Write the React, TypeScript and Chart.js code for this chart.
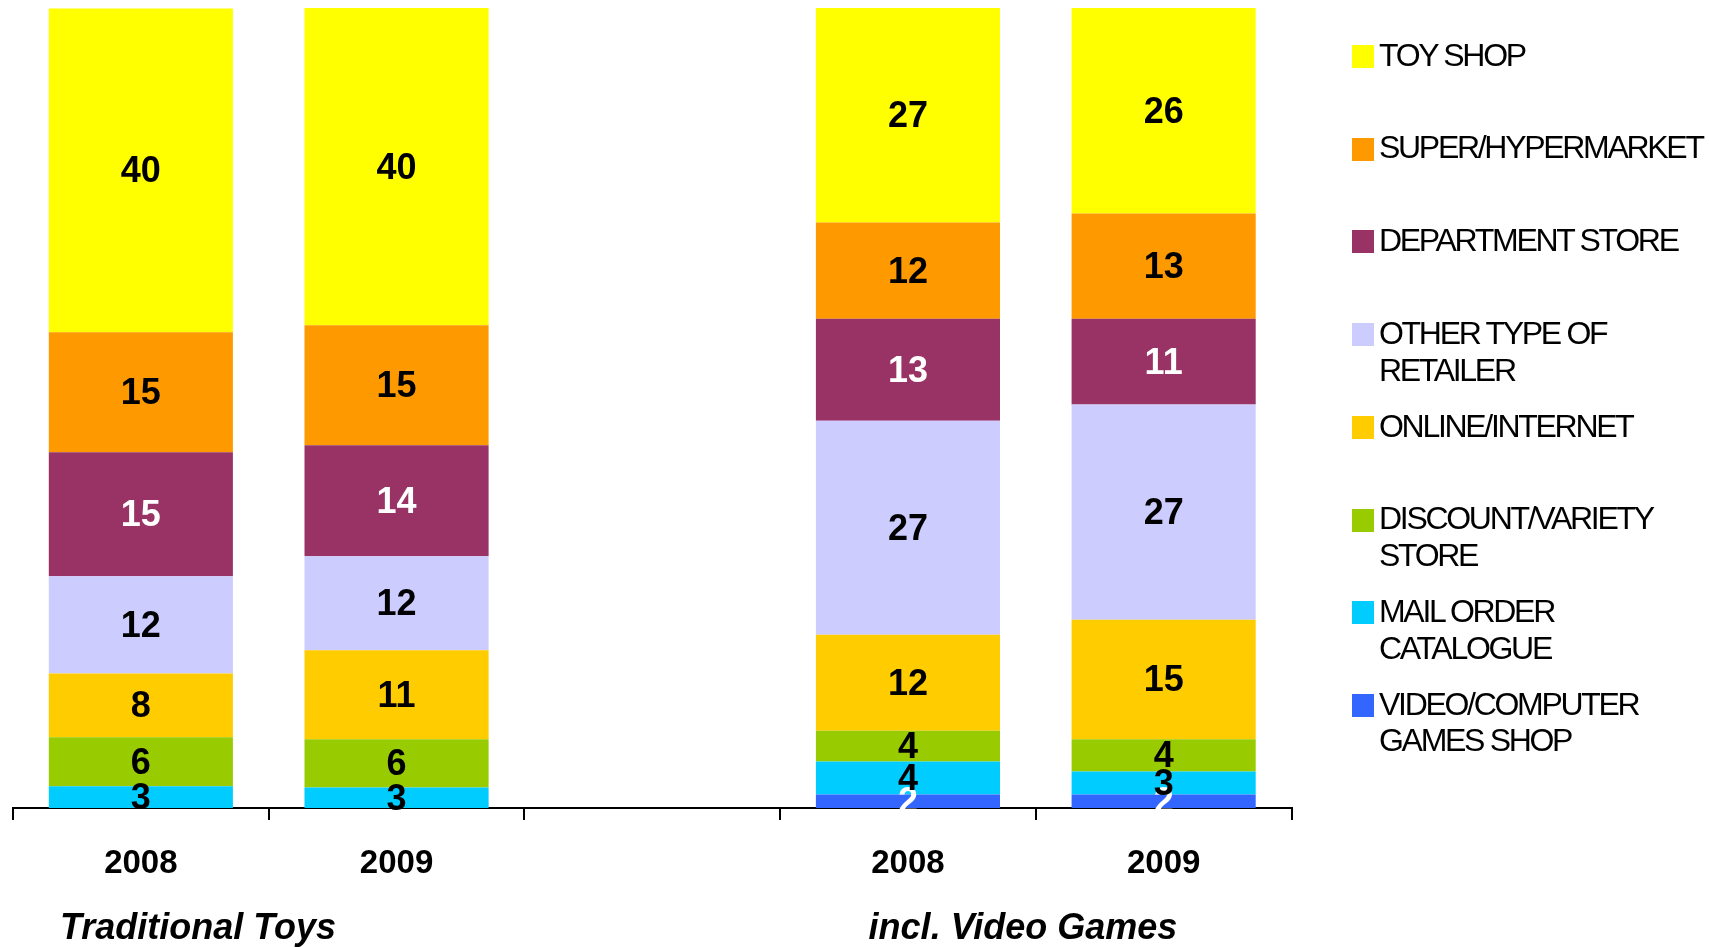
import React, { useEffect, useRef } from 'react';
import { Chart, registerables } from 'chart.js';

Chart.register(...registerables);

// ---- data ----
const categories = ['2008', '2009', '', '2008', '2009'];
const groupTitles = ['Traditional Toys', 'incl. Video Games'];

const videoComputerGamesShop = [null, null, null, 1.7, 1.7];
const mailOrderCatalogue = [2.71, 2.55, null, 4.1, 2.87];
const discountVarietyStore = [6.13, 6.04, null, 3.87, 4.01];
const onlineInternet = [7.97, 11.13, null, 11.99, 14.95];
const otherTypeOfRetailer = [12.17, 11.75, null, 26.76, 26.9];
const departmentStore = [15.48, 13.88, null, 12.73, 10.72];
const superHypermarket = [15.0, 15.0, null, 12.03, 13.15];
const toyShop = [40.48, 39.64, null, 26.82, 25.7];

const FONT = '"Liberation Sans", Arial, Helvetica, sans-serif';

// bottom-to-top stacking order
const series = [
  { name: 'VIDEO/COMPUTER GAMES SHOP', data: videoComputerGamesShop, color: '#3366FF', text: '#FFFFFF' },
  { name: 'MAIL ORDER CATALOGUE', data: mailOrderCatalogue, color: '#00CCFF', text: '#000000' },
  { name: 'DISCOUNT/VARIETY STORE', data: discountVarietyStore, color: '#99CC00', text: '#000000' },
  { name: 'ONLINE/INTERNET', data: onlineInternet, color: '#FFCC00', text: '#000000' },
  { name: 'OTHER TYPE OF RETAILER', data: otherTypeOfRetailer, color: '#CCCCFF', text: '#000000' },
  { name: 'DEPARTMENT STORE', data: departmentStore, color: '#993366', text: '#FFFFFF' },
  { name: 'SUPER/HYPERMARKET', data: superHypermarket, color: '#FF9900', text: '#000000' },
  { name: 'TOY SHOP', data: toyShop, color: '#FFFF00', text: '#000000' },
];

const valueLabels = {
  id: 'valueLabels',
  afterDraw(chart: any) {
    const ctx = chart.ctx;
    ctx.save();
    ctx.font = `bold 36px ${FONT}`;
    ctx.textAlign = 'center';
    ctx.textBaseline = 'middle';
    chart.data.datasets.forEach((ds: any, i: number) => {
      const meta = chart.getDatasetMeta(i);
      meta.data.forEach((el: any, j: number) => {
        const v = ds.data[j];
        if (v === null || v === undefined) return;
        const p = el.getProps(['x', 'y', 'base'], true);
        ctx.fillStyle = series[i].text;
        ctx.fillText(String(Math.round(v)), p.x, (p.y + p.base) / 2 + 2);
      });
    });
    ctx.restore();
  },
};

export default function App() {
  const canvasRef = useRef<HTMLCanvasElement | null>(null);

  useEffect(() => {
    if (!canvasRef.current) return;
    const chart = new Chart(canvasRef.current, {
      type: 'bar',
      data: {
        labels: categories,
        datasets: series.map((s) => ({
          label: s.name,
          data: s.data,
          backgroundColor: s.color,
          borderWidth: 0,
          barPercentage: 0.72,
          categoryPercentage: 1.0,
        })),
      },
      options: {
        animation: false,
        responsive: true,
        maintainAspectRatio: false,
        layout: { padding: { left: 13, right: 417.5, top: 8, bottom: 0 } },
        plugins: {
          legend: { display: false },
          tooltip: { enabled: false },
          title: { display: false },
        },
        scales: {
          x: {
            stacked: true,
            offset: true,
            grid: {
              display: true,
              offset: true,
              drawOnChartArea: false,
              drawTicks: true,
              tickLength: 12,
              color: '#000000',
              lineWidth: 2,
            },
            border: { display: true, color: '#000000', width: 2 },
            ticks: {
              color: '#000000',
              font: { family: FONT, size: 33, weight: 'bold' },
              padding: 24,
              maxRotation: 0,
              autoSkip: false,
            },
            afterFit: (scale: any) => {
              scale.height = 139;
            },
          },
          y: { stacked: true, display: false, min: 0, max: 100 },
        },
      } as any,
      plugins: [valueLabels],
    });
    return () => chart.destroy();
  }, []);

  const legendItems = [...series].reverse();

  return (
    <div style={{ position: 'absolute', left: 0, top: 0, width: 1709, height: 947, background: '#ffffff', overflow: 'hidden' }}>
      <div style={{ position: 'absolute', left: 0, top: 0, width: 1709, height: 947 }}>
        <canvas ref={canvasRef} />
      </div>
      {groupTitles.map((t, i) => (
        <div
          key={t}
          style={{
            position: 'absolute',
            left: i === 0 ? 198 : 1023,
            top: 909,
            transform: 'translateX(-50%)',
            whiteSpace: 'nowrap',
            font: `italic bold 36px ${FONT}`,
            lineHeight: '36px',
            color: '#000',
          }}
        >
          {t}
        </div>
      ))}
      {legendItems.map((s, i) => (
        <div
          key={s.name}
          style={{ position: 'absolute', left: 1352, top: 36.75 + i * 92.7, width: 357 }}
        >
          <div style={{ position: 'absolute', left: 0, top: 8.25, width: 22, height: 23, background: s.color }} />
          <div
            style={{
              position: 'absolute',
              left: 27,
              top: 0,
              width: 330,
              font: `32px ${FONT}`,
              lineHeight: '36.7px',
              letterSpacing: '-2.3px',
              color: '#000',
            }}
          >
            {s.name}
          </div>
        </div>
      ))}
    </div>
  );
}
